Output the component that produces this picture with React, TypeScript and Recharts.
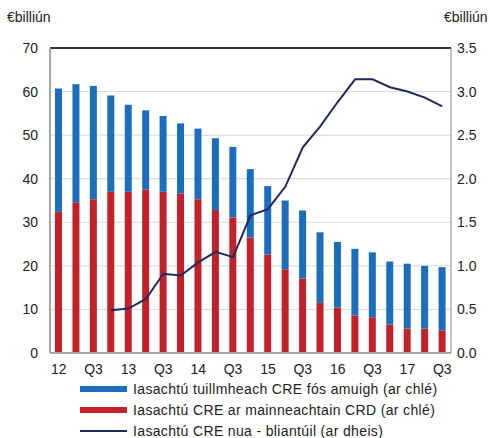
import React from "react";
import {
  Bar,
  CartesianGrid,
  ComposedChart,
  Line,
  ReferenceLine,
  XAxis,
  YAxis,
} from "recharts";

const quarters = [
  "2012Q1", "2012Q2", "2012Q3", "2012Q4",
  "2013Q1", "2013Q2", "2013Q3", "2013Q4",
  "2014Q1", "2014Q2", "2014Q3", "2014Q4",
  "2015Q1", "2015Q2", "2015Q3", "2015Q4",
  "2016Q1", "2016Q2", "2016Q3", "2016Q4",
  "2017Q1", "2017Q2", "2017Q3",
];

// bar totals (left axis) and the defaulted part
const totalOutstanding = [
  60.7, 61.7, 61.3, 59.1, 57.0, 55.7, 54.4, 52.7, 51.5, 49.3, 47.3, 42.2,
  38.3, 35.0, 32.7, 27.7, 25.5, 23.9, 23.1, 21.0, 20.5, 20.0, 19.7,
];
const defaulted = [
  32.4, 34.6, 35.3, 37.0, 37.0, 37.5, 37.0, 36.6, 35.3, 32.8, 31.1, 26.5,
  22.6, 19.2, 17.1, 11.5, 10.4, 8.6, 8.2, 6.5, 5.6, 5.6, 5.2,
];
// new CRE lending, annual (right axis)
const newLending = [
  null, null, null, 0.49, 0.51, 0.62, 0.91, 0.89, 1.04, 1.16, 1.1, 1.58,
  1.65, 1.91, 2.36, 2.6, 2.88, 3.14, 3.14, 3.05, 3.0, 2.93, 2.83,
];

const leftTicks = [0, 10, 20, 30, 40, 50, 60, 70];
const rightTicks = [0, 0.5, 1, 1.5, 2, 2.5, 3, 3.5];

const BLUE = "#1b6ebb";
const RED = "#c1212a";
const NAVY = "#1d2a5e";

const data = quarters.map((q, i) => ({
  q,
  performing: +(totalOutstanding[i] - defaulted[i]).toFixed(1),
  defaulted: defaulted[i],
  newLending: newLending[i],
}));

function tickLabel(q: string) {
  return q.endsWith("Q1") ? q.slice(2, 4) : q.slice(4);
}

const font = "'Liberation Sans', Arial, sans-serif";
const tickStyle = { fill: "#222", fontSize: 14, fontFamily: font };

const legendItems = [
  { label: "Iasachtú tuillmheach CRE fós amuigh (ar chlé)", color: BLUE, h: 6 },
  { label: "Iasachtú CRE ar mainneachtain CRD (ar chlé)", color: RED, h: 6 },
  { label: "Iasachtú CRE nua - bliantúil (ar dheis)", color: NAVY, h: 2 },
];

export default function App() {
  return (
    <div
      style={{
        position: "absolute",
        left: 0,
        top: 0,
        width: 490,
        height: 438,
        overflow: "hidden",
        background: "#fff",
        fontFamily: font,
        color: "#222",
      }}
    >
      <div style={{ position: "absolute", left: 7, top: 9, fontSize: 14 }}>
        €billiún
      </div>
      <div style={{ position: "absolute", left: 444, top: 9, fontSize: 14 }}>
        €billiún
      </div>
      <ComposedChart
        width={490}
        height={438}
        data={data}
        margin={{ top: 48, right: 4, left: 5, bottom: 55 }}
        barSize={7}
      >
        <CartesianGrid vertical={false} stroke="#d9d9d9" yAxisId="left" />
        <XAxis
          dataKey="q"
          interval={1}
          tickFormatter={tickLabel}
          tickLine={false}
          tickSize={0}
          tickMargin={11}
          height={30}
          stroke="#a6a6a6"
          strokeWidth={2}
          tick={tickStyle}
        />
        <YAxis
          yAxisId="left"
          domain={[0, 70]}
          ticks={leftTicks}
          width={45}
          tickLine={false}
          tickSize={0}
          tickMargin={12}
          stroke="#a6a6a6"
          strokeWidth={2}
          tick={tickStyle}
        />
        <YAxis
          yAxisId="right"
          orientation="right"
          domain={[0, 3.5]}
          ticks={rightTicks}
          tickFormatter={(v: number) => v.toFixed(1)}
          width={35}
          tickLine={false}
          tickSize={0}
          tickMargin={6}
          stroke="#8c8c8c"
          tick={{ ...tickStyle, textAnchor: "start" }}
        />
        <ReferenceLine yAxisId="left" y={70} stroke="#333" strokeWidth={2} />
        <Bar
          yAxisId="left"
          dataKey="defaulted"
          stackId="a"
          fill={RED}
          isAnimationActive={false}
        />
        <Bar
          yAxisId="left"
          dataKey="performing"
          stackId="a"
          fill={BLUE}
          isAnimationActive={false}
        />
        <Line
          yAxisId="right"
          dataKey="newLending"
          stroke={NAVY}
          strokeWidth={2}
          dot={false}
          type="linear"
          isAnimationActive={false}
        />
      </ComposedChart>
      <div style={{ position: "absolute", left: 80, top: 378 }}>
        {legendItems.map((it) => (
          <div
            key={it.label}
            style={{
              display: "flex",
              alignItems: "center",
              height: 21,
              fontSize: 14,
              lineHeight: "16px",
              letterSpacing: "0.35px",
              whiteSpace: "nowrap",
            }}
          >
            <span
              style={{
                display: "inline-block",
                width: 47,
                height: it.h,
                background: it.color,
                marginRight: 6,
              }}
            />
            <span>{it.label}</span>
          </div>
        ))}
      </div>
    </div>
  );
}
